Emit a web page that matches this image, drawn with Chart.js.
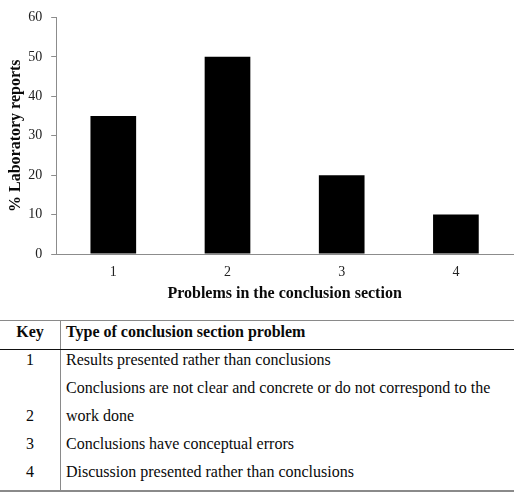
<!DOCTYPE html>
<html>
<head>
<meta charset="utf-8">
<script src="https://cdn.jsdelivr.net/npm/chart.js@4"></script>
<style>
  body { margin: 0; background: #fff; font-family: 'Liberation Serif'; }
  #wrap { position: relative; width: 521px; height: 495px; }
  #chartBox { position: absolute; left: 0; top: 0; width: 521px; height: 310px; }
  #keyTable { position: absolute; left: 0; top: 320px; width: 514px; border-collapse: collapse;
              border-top: 1px solid #8a8a8a; border-bottom: 2px solid #8a8a8a; color: #0a0a0a;
              font-family: 'Liberation Serif'; }
  #keyTable th, #keyTable td { font-family: 'Liberation Serif'; font-size: 16px; padding: 0; }
  #keyTable .k { width: 60px; text-align: center; border-right: 1px solid #8a8a8a; vertical-align: bottom; }
  #keyTable .d { padding-left: 5px; vertical-align: bottom; }
  #keyTable th.k, #keyTable th.d { font-weight: bold; height: 27px; border-bottom: 1px solid #111;
                 line-height: 20px; vertical-align: top; padding-top: 1px; }
  #keyTable th.d { text-align: left; }
  #keyTable tbody tr td div { height: 28px; line-height: 20px; }
</style>
</head>
<body>
<div id="wrap">
  <div id="chartBox"><canvas id="barChart"></canvas></div>
  <table id="keyTable">
    <thead><tr><th class="k">Key</th><th class="d">Type of conclusion section problem</th></tr></thead>
    <tbody id="keyBody"></tbody>
  </table>
</div>
<script>
// chart data
const categories = ['1', '2', '3', '4'];
const reportPct = [35, 50, 20, 10];
const yTicks = [0, 10, 20, 30, 40, 50, 60];

// key table text (one entry per problem, wrapped lines as written)
const problemLines = [
    ['Results presented rather than conclusions'],
    ['Conclusions are not clear and concrete or do not correspond to the', 'work done'],
    ['Conclusions have conceptual errors'],
    ['Discussion presented rather than conclusions']
];

const body = document.getElementById('keyBody');
categories.forEach((key, i) => {
    const tr = document.createElement('tr');
    const lines = problemLines[i];
    let kHtml = '';
    for (let j = 0; j < lines.length; j++) {
        kHtml += '<div>' + (j === lines.length - 1 ? key : '&nbsp;') + '</div>';
    }
    tr.innerHTML = '<td class="k">' + kHtml + '</td><td class="d">' +
        lines.map(l => '<div>' + l + '</div>').join('') + '</td>';
    body.appendChild(tr);
});

const serif = "'Liberation Serif'";
const axisGray = '#8c8c8c';

const ctx = document.getElementById('barChart').getContext('2d');
const myChart = new Chart(ctx, {
    type: 'bar',
    data: {
        labels: categories,
        datasets: [{
            label: '% Laboratory reports',
            data: reportPct,
            backgroundColor: '#000000',
            borderWidth: 0,
            categoryPercentage: 1.0,
            barPercentage: 0.4
        }]
    },
    options: {
        responsive: true,
        maintainAspectRatio: false,
        animation: false,
        layout: { autoPadding: false, padding: { left: 4, right: 8, top: 3, bottom: 7 } },
        plugins: {
            legend: { display: false },
            tooltip: { enabled: false }
        },
        scales: {
            x: {
                grid: { display: false, drawTicks: false },
                border: { display: true, color: axisGray, width: 1 },
                ticks: { color: '#222', font: { family: serif, size: 14 }, padding: 10 },
                // chart.js counts tick padding twice, take one back
                afterFit: axis => { axis.height -= 10; },
                title: {
                    display: true,
                    text: 'Problems in the conclusion section',
                    color: '#0a0a0a',
                    font: { family: serif, size: 16, weight: 'bold' },
                    padding: { top: 3, bottom: 0 }
                }
            },
            y: {
                min: 0,
                max: 60,
                afterBuildTicks: axis => { axis.ticks = yTicks.map(v => ({ value: v })); },
                afterFit: axis => { axis.width -= 9; },
                grid: { drawOnChartArea: false, drawTicks: true, tickLength: 5, color: axisGray },
                border: { display: true, color: axisGray, width: 1 },
                ticks: { color: '#222', font: { family: serif, size: 14 }, padding: 9 },
                title: {
                    display: true,
                    text: '% Laboratory reports',
                    color: '#0a0a0a',
                    font: { family: serif, size: 16, weight: 'bold' },
                    padding: { top: 2, bottom: 3 }
                }
            }
        }
    }
});
</script>
</body>
</html>
